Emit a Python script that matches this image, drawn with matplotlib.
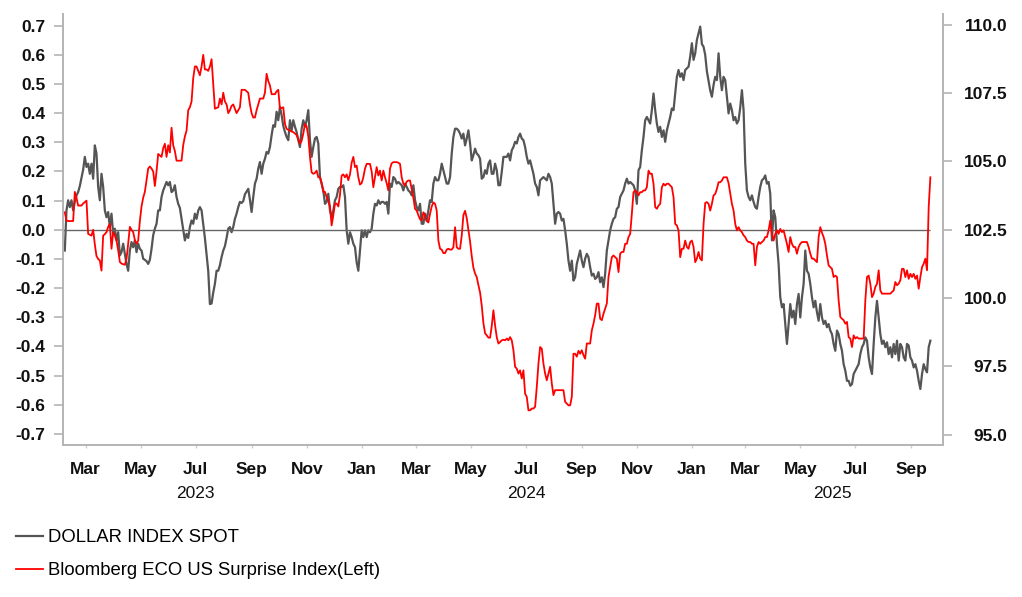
import numpy             as np
import pandas            as pd
import matplotlib
matplotlib.use('Agg')
import matplotlib.pyplot as plt
import matplotlib.dates  as mdates

plt.rcParams['font.family'] = ['Liberation Sans', 'DejaVu Sans']

# Series, evenly spaced between the two dates
start_date = '2023-02-06'
end_date   = '2025-09-22'

dxy = [
    # Feb 2023 - Oct 2023
    101.74, 103.21, 103.58, 103.33, 103.58, 103.21, 103.52, 103.76, 103.88, 104.10,
    104.40, 104.70, 105.17, 104.80, 104.92, 104.55, 104.92, 104.37, 105.59, 105.29,
    104.07, 103.58, 104.55, 104.07, 103.21, 102.96, 103.15, 102.60, 103.09, 102.35,
    102.54, 102.11, 102.41, 101.56, 101.68, 101.99, 101.62, 101.25, 101.00, 101.74,
    102.05, 101.86, 102.11, 101.68, 101.99, 101.80, 101.74, 101.44, 101.40, 101.35,
    101.25, 101.40, 101.80, 102.30, 102.54, 102.72, 103.21, 103.21, 103.70, 103.94,
    104.10, 104.25, 104.13, 104.25, 103.88, 103.94, 104.13, 103.70, 103.45, 103.30,
    102.90, 102.50, 102.11, 102.35, 102.20, 102.60, 102.84, 102.72, 103.09, 102.90,
    103.20, 103.33, 103.21, 102.72, 102.20, 101.60, 101.00, 99.78, 99.80, 100.20,
    100.52, 101.00, 101.00, 101.20, 101.50, 101.74, 101.90, 102.20, 102.54, 102.60,
    102.41, 102.60, 102.90, 103.09, 103.33, 103.52, 103.48, 103.55, 103.80, 103.90,
    104.00, 103.60, 103.15, 103.70, 104.19, 104.37, 104.74, 104.98, 104.55, 104.92,
    105.10, 105.35, 105.29, 105.53, 105.96, 106.33, 106.27, 106.82, 106.51, 107.00,
    106.70, 106.30, 106.08,
    # Oct 2023 - Jun 2024
    105.90, 105.78, 106.51, 106.14, 106.51, 106.27, 106.08, 105.78, 105.53, 106.20,
    106.51, 106.27, 106.51, 106.88, 105.78, 105.17, 105.53, 105.84, 105.90, 105.66,
    104.43, 104.19, 103.94, 103.45, 103.52, 103.82, 103.21, 102.96, 103.21, 103.58,
    103.70, 104.00, 104.07, 104.07, 104.13, 103.70, 102.48, 101.99, 102.41, 102.23,
    101.99, 101.86, 101.31, 101.00, 101.74, 102.48, 102.23, 102.48, 102.23, 102.48,
    102.41, 102.54, 103.09, 103.45, 103.39, 103.58, 103.45, 103.52, 103.52, 103.45,
    103.52, 103.09, 104.19, 104.07, 104.43, 104.37, 104.19, 104.25, 104.19, 104.13,
    103.94, 104.19, 104.07, 103.94, 103.88, 103.76, 104.13, 103.58, 103.33, 103.21,
    103.45, 102.72, 102.72, 103.09, 102.84, 103.21, 103.58, 103.52, 104.19, 104.43,
    104.31, 104.31, 104.55, 104.92, 104.68, 104.43, 104.19, 104.19, 104.43, 105.29,
    105.90, 106.20, 106.20, 106.14, 106.02, 105.84, 106.02, 105.59, 105.84, 106.14,
    105.66, 105.04, 105.23, 105.47, 105.29, 105.23, 105.10, 104.37, 104.43, 104.68,
    104.55, 104.92, 105.04, 104.55, 104.55, 104.92, 104.68, 104.13, 104.13, 104.62,
    105.17, 105.17,
    # Jun 2024 - Feb 2025
    105.17, 105.29, 105.04, 105.41, 105.53, 105.72, 105.66, 105.90, 106.02, 105.84,
    105.78, 105.53, 105.17, 104.92, 105.04, 104.80, 104.55, 104.19, 104.07, 103.76,
    104.31, 104.37, 104.43, 104.37, 104.31, 104.55, 104.43, 104.19, 103.45, 102.72,
    103.09, 103.15, 103.09, 102.84, 102.90, 102.48, 101.99, 101.37, 101.00, 101.37,
    100.64, 100.76, 101.25, 101.50, 101.74, 101.37, 101.13, 101.44, 101.62, 101.50,
    101.13, 100.82, 100.89, 100.70, 100.76, 100.95, 100.58, 100.76, 100.40, 100.89,
    101.74, 102.11, 102.48, 102.72, 102.90, 102.96, 103.27, 103.33, 103.70, 103.82,
    103.94, 104.19, 104.37, 104.19, 104.25, 104.19, 104.13, 103.94, 103.45, 104.68,
    104.80, 105.41, 105.90, 106.51, 106.63, 106.51, 106.39, 106.88, 107.49, 106.88,
    106.39, 106.08, 106.27, 105.90, 106.14, 105.72, 106.14, 106.39, 106.63, 106.94,
    106.88, 107.49, 108.10, 108.35, 108.10, 108.23, 107.98, 108.35, 108.41, 108.47,
    108.84, 109.33, 108.72, 108.96, 109.45, 109.69, 109.94, 109.30, 109.20, 108.90,
    108.30, 107.95, 107.60, 107.37, 107.80, 108.10, 107.98, 108.96, 108.10, 107.61,
    108.10, 107.98,
    # Feb 2025 - Sep 2025
    107.37, 106.76, 107.12, 106.88, 106.51, 106.63, 106.39, 106.51, 106.98, 107.61,
    106.88, 104.92, 103.94, 103.70, 103.58, 103.76, 103.52, 103.33, 103.27, 103.70,
    104.07, 104.31, 104.37, 104.49, 104.19, 104.25, 103.82, 102.11, 103.21, 102.96,
    101.99, 101.25, 100.03, 99.66, 99.78, 99.05, 98.32, 99.05, 99.78, 99.29,
    99.54, 99.05, 99.78, 100.15, 99.29, 100.03, 100.52, 101.74, 101.00, 100.89,
    100.52, 100.03, 99.66, 99.90, 99.48, 99.17, 99.78, 99.29, 99.05, 99.17,
    98.93, 99.05, 98.81, 98.68, 98.32, 98.07, 98.81, 98.68, 98.32, 98.07,
    97.58, 97.34, 96.97, 96.97, 96.79, 96.85, 97.22, 97.34, 97.46, 97.58,
    97.95, 98.20, 98.32, 98.56, 98.44, 97.83, 97.46, 97.22, 98.32, 99.29,
    99.90, 99.29, 98.68, 98.32, 98.44, 98.20, 98.38, 97.95, 98.20, 97.83,
    98.32, 97.95, 98.44, 97.71, 98.32, 98.20, 97.83, 97.71, 98.32, 98.26,
    97.83, 97.71, 97.46, 97.58, 97.34, 96.97, 96.67, 97.22, 97.58, 97.40,
    97.28, 98.20, 98.44,
]

eco = [
    # Feb 2023 - Oct 2023
    0.06, 0.032, 0.03, 0.03, 0.03, 0.03, 0.13, 0.11, 0.083, 0.083,
    0.083, 0.09, 0.095, 0.10, -0.014, -0.017, -0.02, 0.0, -0.05, -0.09,
    -0.10, -0.105, -0.14, -0.02, -0.015, -0.008, 0.01, 0.02, -0.065, -0.008,
    -0.02, -0.037, -0.07, -0.11, -0.116, -0.118, -0.12, -0.10, -0.048, 0.01,
    0.0, -0.008, -0.035, -0.048, -0.037, 0.03, 0.08, 0.11, 0.13, 0.17,
    0.21, 0.217, 0.21, 0.20, 0.15, 0.20, 0.26, 0.255, 0.25, 0.28,
    0.295, 0.25, 0.29, 0.265, 0.35, 0.29, 0.27, 0.237, 0.237, 0.237,
    0.237, 0.29, 0.32, 0.34, 0.41, 0.42, 0.44, 0.52, 0.56, 0.56,
    0.545, 0.53, 0.56, 0.60, 0.55, 0.55, 0.545, 0.56, 0.585, 0.50,
    0.415, 0.418, 0.42, 0.45, 0.43, 0.47, 0.44, 0.43, 0.40, 0.41,
    0.425, 0.43, 0.415, 0.40, 0.41, 0.42, 0.48, 0.48, 0.48, 0.475,
    0.47, 0.43, 0.40, 0.385, 0.385, 0.41, 0.43, 0.45, 0.45, 0.45,
    0.47, 0.535, 0.51, 0.495, 0.465, 0.465, 0.465, 0.475, 0.48, 0.415,
    0.418, 0.42, 0.363,
    # Oct 2023 - Jun 2024
    0.346, 0.343, 0.34, 0.337, 0.335, 0.33, 0.325, 0.31, 0.295, 0.305,
    0.33, 0.363, 0.355, 0.32, 0.25, 0.197, 0.192, 0.195, 0.203, 0.18,
    0.18, 0.16, 0.13, 0.13, 0.112, 0.10, 0.08, 0.015, 0.05, 0.09,
    0.09, 0.08, 0.12, 0.186, 0.19, 0.18, 0.19, 0.17, 0.19, 0.23,
    0.25, 0.215, 0.22, 0.18, 0.155, 0.16, 0.18, 0.21, 0.226, 0.226,
    0.226, 0.20, 0.146, 0.18, 0.215, 0.186, 0.203, 0.169, 0.203, 0.18,
    0.16, 0.135, 0.21, 0.228, 0.232, 0.232, 0.232, 0.23, 0.226, 0.18,
    0.158, 0.152, 0.165, 0.169, 0.169, 0.14, 0.11, 0.072, 0.066, 0.05,
    0.036, 0.032, 0.06, 0.05, 0.03, 0.025, 0.055, 0.08, 0.094, 0.089,
    0.066, -0.037, -0.065, -0.068, -0.08, -0.08, -0.068, -0.065, -0.068, -0.068,
    -0.06, 0.009, -0.06, -0.065, -0.065, -0.02, 0.05, 0.065, 0.04, 0.0,
    -0.04, -0.09, -0.13, -0.15, -0.162, -0.19, -0.215, -0.26, -0.32, -0.355,
    -0.362, -0.37, -0.37, -0.33, -0.276, -0.328, -0.368, -0.39, -0.385, -0.379,
    -0.377, -0.379,
    # Jun 2024 - Feb 2025
    -0.373, -0.379, -0.368, -0.379, -0.413, -0.47, -0.476, -0.493, -0.482, -0.51,
    -0.482, -0.562, -0.573, -0.619, -0.619, -0.613, -0.613, -0.607, -0.539, -0.459,
    -0.402, -0.408, -0.459, -0.493, -0.516, -0.493, -0.47, -0.527, -0.567, -0.55,
    -0.55, -0.55, -0.55, -0.55, -0.55, -0.59, -0.596, -0.602, -0.602, -0.573,
    -0.425, -0.425, -0.435, -0.415, -0.425, -0.413, -0.43, -0.442, -0.39, -0.39,
    -0.39, -0.345, -0.322, -0.293, -0.253, -0.253, -0.305, -0.31, -0.288, -0.27,
    -0.253, -0.162, -0.128, -0.094, -0.088, -0.094, -0.099, -0.145, -0.082, -0.076,
    -0.076, -0.048, -0.048, -0.025, -0.014, 0.055, 0.129, 0.135, 0.129, 0.118,
    0.129, 0.129, 0.135, 0.135, 0.146, 0.203, 0.192, 0.192, 0.158, 0.078,
    0.072, 0.083, 0.089, 0.146, 0.158, 0.152, 0.158, 0.158, 0.152, 0.146,
    0.112, 0.02, 0.015, -0.002, -0.094, -0.065, -0.065, -0.037, -0.059, -0.065,
    -0.042, -0.037, -0.059, -0.111, -0.099, -0.076, -0.099, -0.105, 0.02, 0.092,
    0.095, 0.089, 0.066, 0.089, 0.118, 0.123, 0.14, 0.163, 0.163, 0.169,
    0.18, 0.18,
    # Feb 2025 - Sep 2025
    0.18, 0.16, 0.125, 0.089, 0.066, 0.02, -0.002, 0.009, -0.002, -0.008,
    -0.019, -0.025, -0.037, -0.042, -0.042, -0.048, -0.048, -0.122, -0.059, -0.042,
    -0.048, -0.042, -0.037, -0.025, -0.025, -0.002, 0.032, -0.014, -0.037, -0.014,
    -0.002, -0.014, 0.003, -0.008, -0.002, -0.025, -0.048, -0.076, -0.025, -0.048,
    -0.059, -0.059, -0.082, -0.059, -0.048, -0.042, -0.042, -0.042, -0.042, -0.059,
    -0.082, -0.099, -0.099, -0.105, -0.111, -0.025, 0.009, -0.01, -0.025, -0.048,
    -0.088, -0.122, -0.128, -0.134, -0.162, -0.157, -0.162, -0.242, -0.299, -0.305,
    -0.31, -0.322, -0.316, -0.368, -0.373, -0.402, -0.362, -0.373, -0.368, -0.373,
    -0.373, -0.373, -0.373, -0.242, -0.162, -0.157, -0.185, -0.231, -0.219, -0.196,
    -0.185, -0.139, -0.208, -0.219, -0.219, -0.219, -0.219, -0.219, -0.219, -0.213,
    -0.208, -0.179, -0.19, -0.185, -0.173, -0.134, -0.134, -0.162, -0.139, -0.168,
    -0.151, -0.162, -0.151, -0.168, -0.157, -0.202, -0.162, -0.128, -0.116, -0.099,
    -0.139, 0.078, 0.18,
]

left_ticks  = [-0.7, -0.6, -0.5, -0.4, -0.3, -0.2, -0.1, 0.0,
               0.1, 0.2, 0.3, 0.4, 0.5, 0.6, 0.7]
right_ticks = [95.0, 97.5, 100.0, 102.5, 105.0, 107.5, 110.0]
year_labels = [('2023', '2023-07-01'),
               ('2024', '2024-07-01'),
               ('2025', '2025-06-05')]
dxy_label = 'DOLLAR INDEX SPOT'
eco_label = 'Bloomberg ECO US Surprise Index(Left)'

dates = pd.date_range(start_date, end_date, periods=len(dxy))

# Figure and axes
fig = plt.figure(figsize=(10.22, 5.97), dpi=100)
ax  = fig.add_axes([63 / 1022, 1 - 445 / 597, 880 / 1022, 431 / 597])
ax2 = ax.twinx()
ax.set_zorder(ax2.get_zorder() + 1)
ax.patch.set_visible(False)

spine_col = '#b4b4b4'
gray_col  = '#555555'
red_col   = '#ff0000'

#       Plot the lines
ax2.plot(dates, dxy, color=gray_col, lw=1.6, label=dxy_label)
ax.hlines(0, pd.Timestamp('2023-02-04'), dates[-1], color='#666666', lw=1.0)
ax.plot(dates, eco, color=red_col, lw=1.3, label=eco_label)

#       Limits
ax.set_xlim(pd.Timestamp('2023-02-04'), pd.Timestamp('2025-10-06'))
ax.set_ylim(-0.738, 0.740)
ax2.set_ylim(94.62, 110.40)

#       Spines
for name in ['top', 'right']:
    ax.spines[name].set_visible(False)
for name in ['top', 'left', 'bottom']:
    ax2.spines[name].set_visible(False)
for sp in [ax.spines['left'], ax.spines['bottom'], ax2.spines['right']]:
    sp.set_color(spine_col)
    sp.set_linewidth(1.4)

#       Y ticks
ax.set_yticks(left_ticks)
ax.set_yticklabels(['%.1f' % v for v in left_ticks])
ax2.set_yticks(right_ticks)
ax2.set_yticklabels(['%.1f' % v for v in right_ticks])
ax.tick_params(axis='y', length=6.5, width=1.2, color=spine_col, pad=6,
               labelsize=12.5, labelcolor='#111111')
ax2.tick_params(axis='y', length=6.5, width=1.2, color=spine_col, pad=40,
                labelsize=12.5, labelcolor='#111111')
for lab in ax.get_yticklabels() + ax2.get_yticklabels():
    lab.set_fontweight('bold')
for lab in ax2.get_yticklabels():
    lab.set_horizontalalignment('right')

#       X ticks
ax.xaxis.set_major_locator(mdates.MonthLocator(bymonth=[1, 3, 5, 7, 9, 11]))
ax.xaxis.set_major_formatter(mdates.DateFormatter('%b'))
ax.xaxis.set_minor_locator(mdates.YearLocator())
ax.tick_params(axis='x', which='major', length=2.5, width=1.0,
               color='#cccccc', pad=10, labelsize=12.5, labelcolor='#111111')
ax.tick_params(axis='x', which='minor', length=7, width=1.2, color='#999999')
for lab in ax.get_xticklabels():
    lab.set_fontweight('bold')

trans = ax.get_xaxis_transform()
for text, when in year_labels:
    ax.text(pd.Timestamp(when), -0.112, text, transform=trans, ha='center',
            va='center', fontsize=12.5, color='#111111')

#       Legend
handles = ax2.get_lines()[:1] + ax.get_lines()[:1]
fig.legend(handles, [dxy_label, eco_label], loc='upper left',
           bbox_to_anchor=(16 / 1022, 1 - 529 / 597), frameon=False,
           fontsize=13.3, handlelength=1.45, handletextpad=0.3,
           labelspacing=0.88, borderpad=0, borderaxespad=0)

fig.savefig('out.png', dpi=100)
